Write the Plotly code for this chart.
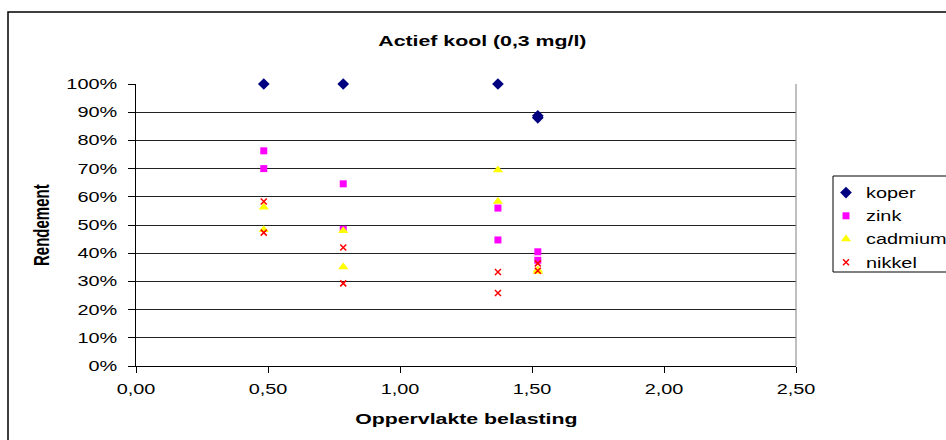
import plotly.graph_objects as go

# ---- data ----
koper_x = [0.484, 0.785, 1.371, 1.522, 1.522]
koper_y = [100.0, 100.0, 100.0, 88.0, 88.7]

zink_x = [0.484, 0.484, 0.785, 0.785, 1.371, 1.371, 1.522, 1.522]
zink_y = [76.3, 70.0, 64.6, 48.5, 56.0, 44.7, 40.5, 37.5]

cadmium_x = [0.484, 0.484, 0.785, 0.785, 1.371, 1.371, 1.522, 1.522]
cadmium_y = [56.3, 48.3, 48.0, 35.1, 69.5, 58.3, 34.0, 33.5]

nikkel_x = [0.484, 0.484, 0.785, 0.785, 1.371, 1.371, 1.522, 1.522]
nikkel_y = [58.3, 47.3, 42.0, 29.3, 33.3, 25.9, 36.4, 33.8]

x_ticks = [0.0, 0.5, 1.0, 1.5, 2.0, 2.5]
y_ticks = [0, 10, 20, 30, 40, 50, 60, 70, 80, 90, 100]
y_tick_labels = ["0%", "10%", "20%", "30%", "40%", "50%", "60%", "70%", "80%", "90%", "100%"]

FONT = "Liberation Sans, Arial, sans-serif"

fig = go.Figure()
fig.add_trace(go.Scatter(x=koper_x, y=koper_y, mode="markers", name="koper",
                         legendgroup="a", cliponaxis=False,
                         marker=dict(symbol="diamond", size=9, color="#000080")))
fig.add_trace(go.Scatter(x=zink_x, y=zink_y, mode="markers", name="zink",
                         legendgroup="b", cliponaxis=False,
                         marker=dict(symbol="square", size=7, color="#FF00FF")))
fig.add_trace(go.Scatter(x=cadmium_x, y=cadmium_y, mode="markers", name="cadmium",
                         legendgroup="c", cliponaxis=False,
                         marker=dict(symbol="triangle-up", size=9, color="#FFFF00")))
fig.add_trace(go.Scatter(x=nikkel_x, y=nikkel_y, mode="markers", name="nikkel",
                         legendgroup="d", cliponaxis=False,
                         marker=dict(symbol="x-thin", size=6, color="#FF0000",
                                     line=dict(color="#FF0000", width=1.5))))

fig.update_layout(
    width=946, height=440,
    margin=dict(l=136, r=150, t=84, b=74, autoexpand=False),
    paper_bgcolor="white", plot_bgcolor="white",
    separators=",.",
    font=dict(family=FONT, size=14, color="black"),
    showlegend=True,
    legend=dict(x=(826 - 136) / 660, xanchor="left", y=(366 - 177) / 282, yanchor="top",
                borderwidth=0, bgcolor="rgba(0,0,0,0)",
                font=dict(family=FONT, size=14, color="black"),
                traceorder="grouped", tracegroupgap=2, itemwidth=30),
    xaxis=dict(range=[0, 2.5], tickvals=x_ticks, tickformat=".2f",
               showgrid=False, zeroline=False,
               showline=True, linecolor="black", linewidth=1,
               ticks="outside", ticklen=6, tickcolor="black",
               tickfont=dict(family=FONT, size=14), ticklabelstandoff=4),
    yaxis=dict(range=[0, 100], tickvals=y_ticks, ticktext=y_tick_labels,
               showgrid=True, gridcolor="#222222", gridwidth=1, zeroline=False,
               showline=True, linecolor="black", linewidth=1,
               ticks="outside", ticklen=7, tickcolor="black",
               tickfont=dict(family=FONT, size=14), ticklabelstandoff=8),
    annotations=[
        dict(text="<b>Actief kool (0,3 mg/l)</b>", xref="paper", yref="paper",
             x=(482 - 136) / 660, y=(366 - 40) / 282, xanchor="center", yanchor="middle",
             showarrow=False, font=dict(family=FONT, size=15, color="black")),
        dict(text="<b>Oppervlakte belasting</b>", xref="paper", yref="paper",
             x=(466 - 136) / 660, y=(366 - 418) / 282, xanchor="center", yanchor="middle",
             showarrow=False, font=dict(family=FONT, size=15, color="black")),
        dict(text="<b>Rendement</b>", xref="paper", yref="paper",
             x=(43 - 136) / 660, y=(366 - 225) / 282, xanchor="center", yanchor="middle",
             textangle=-90, showarrow=False, font=dict(family=FONT, size=15, color="black")),
    ],
    shapes=[
        # outer chart border
        dict(type="rect", xref="paper", yref="paper",
             x0=(8 - 136) / 660, x1=2.0, y0=-1.0, y1=(366 - 12) / 282,
             line=dict(color="black", width=1.5), fillcolor="rgba(0,0,0,0)", layer="below"),
        # plot area right border
        dict(type="line", xref="paper", yref="paper", x0=1, x1=1, y0=0, y1=1,
             line=dict(color="#808080", width=1)),
        # legend box
        dict(type="rect", xref="paper", yref="paper",
             x0=(833 - 136) / 660, x1=(990 - 136) / 660,
             y0=(366 - 272) / 282, y1=(366 - 176) / 282,
             line=dict(color="black", width=1), fillcolor="rgba(0,0,0,0)"),
    ],
)

post = """
var gd = document.getElementById('{plot_id}');
var S = 1.42;
gd.querySelectorAll('.legend [clip-path]').forEach(function(e){ e.removeAttribute('clip-path'); });
gd.querySelectorAll('svg text').forEach(function(t){
  if (!t.textContent) return;
  var m = t.getCTM();
  var tr = t.getAttribute('transform') || '';
  var x = parseFloat(t.getAttribute('x')) || 0;
  var y = parseFloat(t.getAttribute('y')) || 0;
  var extra;
  if (m && Math.abs(m.b) > 0.5) {
    extra = 'translate(0,' + y + ') scale(1,' + S + ') translate(0,' + (-y) + ')';
  } else {
    extra = 'translate(' + x + ',0) scale(' + S + ',1) translate(' + (-x) + ',0)';
  }
  t.setAttribute('transform', (tr + ' ' + extra).trim());
});
"""

fig.write_html("out.html", config={"displayModeBar": False}, post_script=post)
